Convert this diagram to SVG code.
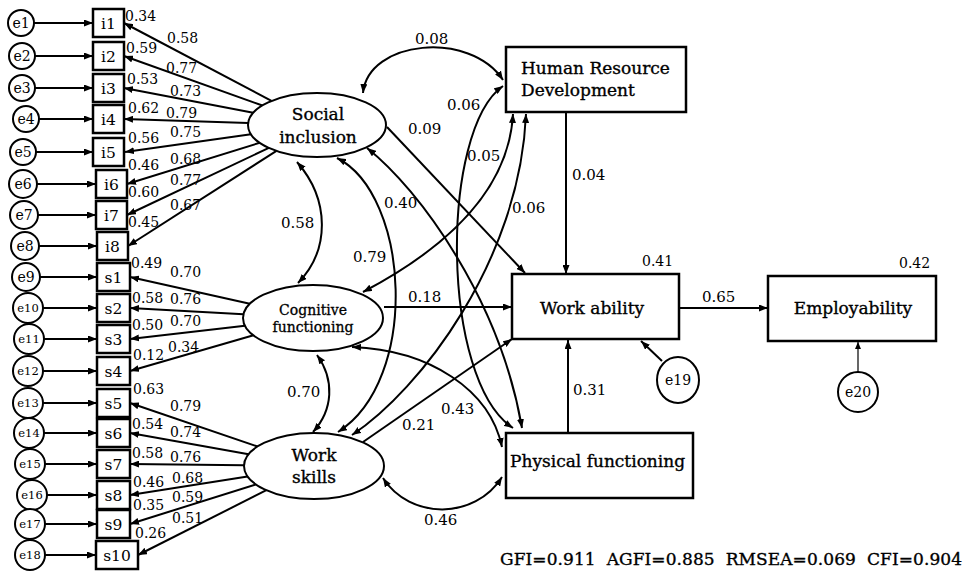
<svg xmlns="http://www.w3.org/2000/svg" width="963" height="574" viewBox="0 0 963 574">
<style>
text{font-family:"DejaVu Serif","Liberation Serif",serif;fill:#000}
.bx{fill:#fff;stroke:#000;stroke-width:2.5}
.el{fill:#fff;stroke:#000;stroke-width:2}
.ec{fill:#fff;stroke:#000;stroke-width:2}
.ln{fill:none;stroke:#000;stroke-width:2;marker-end:url(#ah)}
.dl{fill:none;stroke:#000;stroke-width:2;marker-start:url(#ah);marker-end:url(#ah)}
.thin{fill:none;stroke:#000;stroke-width:1.2;marker-end:url(#ah2)}
.ind{font-size:15.5px;text-anchor:middle}
.et{font-size:14px;text-anchor:middle}
.es{font-size:11.5px;text-anchor:middle}
.sl{font-size:14px}
.ml{font-size:15px}
.nl{font-size:17px;stroke:#000;stroke-width:0.35}
</style>
<defs>
<marker id="ah" viewBox="0 0 9 7" refX="9" refY="3.5" markerWidth="9" markerHeight="7" markerUnits="userSpaceOnUse" orient="auto-start-reverse"><path d="M0,0 L9,3.5 L0,7 z" fill="#000"/></marker>
<marker id="ah2" viewBox="0 0 7 6" refX="7" refY="3" markerWidth="7" markerHeight="6" markerUnits="userSpaceOnUse" orient="auto"><path d="M0,0 L7,3 L0,6 z" fill="#000"/></marker>
</defs>
<rect width="963" height="574" fill="#fff"/>

<g id="connectors">
<line class="ln" x1="34" y1="23" x2="93" y2="23"/>
<line class="ln" x1="35" y1="56" x2="93" y2="56"/>
<line class="ln" x1="35" y1="88" x2="93" y2="88"/>
<line class="ln" x1="39" y1="119" x2="93" y2="119"/>
<line class="ln" x1="36" y1="152" x2="93" y2="152"/>
<line class="ln" x1="37" y1="184" x2="96" y2="184"/>
<line class="ln" x1="38" y1="215" x2="96" y2="215"/>
<line class="ln" x1="39" y1="246" x2="97" y2="246"/>
<line class="ln" x1="40" y1="277" x2="97" y2="277"/>
<line class="ln" x1="43" y1="308" x2="97" y2="308"/>
<line class="ln" x1="44" y1="339" x2="97" y2="339"/>
<line class="ln" x1="43" y1="371" x2="97" y2="371"/>
<line class="ln" x1="43" y1="403" x2="97" y2="403"/>
<line class="ln" x1="44" y1="433" x2="97" y2="433"/>
<line class="ln" x1="45" y1="464" x2="97" y2="464"/>
<line class="ln" x1="47" y1="495" x2="97" y2="495"/>
<line class="ln" x1="45" y1="524" x2="97" y2="524"/>
<line class="ln" x1="45" y1="555" x2="96" y2="555"/>
<line class="ln" x1="271.5" y1="100.9" x2="124" y2="23"/>
<line class="ln" x1="262.4" y1="105.5" x2="124" y2="56"/>
<line class="ln" x1="253.2" y1="112.8" x2="124" y2="88"/>
<line class="ln" x1="248.2" y1="122.9" x2="124" y2="119"/>
<line class="ln" x1="251" y1="134.3" x2="125" y2="152"/>
<line class="ln" x1="259.7" y1="142.8" x2="127" y2="184"/>
<line class="ln" x1="268.9" y1="147.9" x2="127" y2="215"/>
<line class="ln" x1="276.5" y1="150.9" x2="128" y2="246"/>
<line class="ln" x1="249.8" y1="303.8" x2="130" y2="277"/>
<line class="ln" x1="243.5" y1="314.2" x2="130" y2="308"/>
<line class="ln" x1="245" y1="325.8" x2="130" y2="339"/>
<line class="ln" x1="253.5" y1="335.3" x2="130" y2="371"/>
<line class="ln" x1="257.5" y1="446.5" x2="130" y2="403"/>
<line class="ln" x1="248.6" y1="454.2" x2="130" y2="433"/>
<line class="ln" x1="244" y1="465.2" x2="130" y2="464"/>
<line class="ln" x1="247.6" y1="476.5" x2="130" y2="495"/>
<line class="ln" x1="255.9" y1="484.4" x2="130" y2="524"/>
<line class="ln" x1="266.4" y1="490.2" x2="138" y2="555"/>
<line class="ln" x1="387" y1="127" x2="525" y2="273"/>
<line class="ln" x1="384" y1="307" x2="512" y2="307"/>
<line class="ln" x1="363" y1="442" x2="512" y2="339"/>
<line class="ln" x1="566" y1="113" x2="566" y2="274"/>
<line class="ln" x1="568" y1="433" x2="568" y2="340"/>
<line class="ln" x1="679" y1="308" x2="768" y2="308"/>
<line class="ln" x1="662" y1="361" x2="641" y2="341"/>
<line class="thin" x1="858" y1="372" x2="858" y2="342"/>
<path class="dl" d="M363,93 C368,40 470,30 503,80"/>
<path class="dl" d="M297,162 C330,200 330,250 298,283"/>
<path class="dl" d="M317,355 C335,380 333,410 313,432"/>
<path class="dl" d="M337,158 C410,195 420,380 338,432"/>
<path class="dl" d="M367,148 C420,190 500,300 522,428"/>
<path class="dl" d="M503,86 C440,130 440,380 513,428"/>
<path class="dl" d="M363,292 C420,262 508,205 513,114"/>
<path class="dl" d="M352,435 C420,390 520,260 526,114"/>
<path class="dl" d="M352,347 C430,350 490,390 502,447"/>
<path class="dl" d="M383,478 C410,520 475,520 502,477"/>
</g>

<g id="labels">
<text class="sl" x="125" y="21">0.34</text>
<text class="sl" x="167" y="43">0.58</text>
<text class="sl" x="126" y="53">0.59</text>
<text class="sl" x="166" y="73">0.77</text>
<text class="sl" x="127" y="84">0.53</text>
<text class="sl" x="170" y="96">0.73</text>
<text class="sl" x="128" y="113">0.62</text>
<text class="sl" x="166" y="118">0.79</text>
<text class="sl" x="170" y="137">0.75</text>
<text class="sl" x="128" y="143">0.56</text>
<text class="sl" x="170" y="164">0.68</text>
<text class="sl" x="128" y="170">0.46</text>
<text class="sl" x="170" y="185">0.77</text>
<text class="sl" x="128" y="197">0.60</text>
<text class="sl" x="170" y="210">0.67</text>
<text class="sl" x="128" y="227">0.45</text>
<text class="sl" x="131" y="268">0.49</text>
<text class="sl" x="170" y="277">0.70</text>
<text class="sl" x="132" y="303">0.58</text>
<text class="sl" x="170" y="304">0.76</text>
<text class="sl" x="170" y="326">0.70</text>
<text class="sl" x="132" y="330">0.50</text>
<text class="sl" x="168" y="352">0.34</text>
<text class="sl" x="133" y="360">0.12</text>
<text class="sl" x="133" y="394">0.63</text>
<text class="sl" x="170" y="411">0.79</text>
<text class="sl" x="132" y="429">0.54</text>
<text class="sl" x="170" y="437">0.74</text>
<text class="sl" x="132" y="458">0.58</text>
<text class="sl" x="170" y="462">0.76</text>
<text class="sl" x="172" y="483">0.68</text>
<text class="sl" x="133" y="487">0.46</text>
<text class="sl" x="172" y="502">0.59</text>
<text class="sl" x="133" y="510">0.35</text>
<text class="sl" x="172" y="523">0.51</text>
<text class="sl" x="135" y="538">0.26</text>
<text class="ml" x="415" y="44">0.08</text>
<text class="ml" x="408" y="134">0.09</text>
<text class="ml" x="447" y="110">0.06</text>
<text class="ml" x="467" y="161">0.05</text>
<text class="ml" x="281" y="228">0.58</text>
<text class="ml" x="353" y="262">0.79</text>
<text class="ml" x="384" y="208">0.40</text>
<text class="ml" x="512" y="213">0.06</text>
<text class="ml" x="572" y="180">0.04</text>
<text class="ml" x="408" y="302">0.18</text>
<text class="ml" x="287" y="397">0.70</text>
<text class="ml" x="402" y="430">0.21</text>
<text class="ml" x="441" y="414">0.43</text>
<text class="ml" x="424" y="525">0.46</text>
<text class="ml" x="573" y="395">0.31</text>
<text class="ml" x="702" y="302">0.65</text>
<text class="sl" x="642" y="266">0.41</text>
<text class="sl" x="899" y="268">0.42</text>
<text x="500" y="565" font-size="17" stroke="#000" stroke-width="0.35" textLength="462" lengthAdjust="spacing" xml:space="preserve">GFI=0.911  AGFI=0.885  RMSEA=0.069  CFI=0.904</text>
</g>

<g id="e1"><circle class="ec" cx="21" cy="23" r="13"/><text class="et" x="21" y="28">e1</text></g>
<g id="e2"><circle class="ec" cx="22" cy="56" r="13"/><text class="et" x="22" y="61">e2</text></g>
<g id="e3"><circle class="ec" cx="22" cy="88" r="13"/><text class="et" x="22" y="93">e3</text></g>
<g id="e4"><circle class="ec" cx="26" cy="119" r="13"/><text class="et" x="26" y="124">e4</text></g>
<g id="e5"><circle class="ec" cx="23" cy="152" r="13"/><text class="et" x="23" y="157">e5</text></g>
<g id="e6"><circle class="ec" cx="23" cy="184" r="14"/><text class="et" x="23" y="189">e6</text></g>
<g id="e7"><circle class="ec" cx="24" cy="215" r="14"/><text class="et" x="24" y="220">e7</text></g>
<g id="e8"><circle class="ec" cx="25" cy="246" r="14"/><text class="et" x="25" y="251">e8</text></g>
<g id="e9"><circle class="ec" cx="26" cy="277" r="14"/><text class="et" x="26" y="282">e9</text></g>
<g id="e10"><circle class="ec" cx="28" cy="308" r="15"/><text class="es" x="28" y="312">e10</text></g>
<g id="e11"><circle class="ec" cx="29" cy="339" r="15"/><text class="es" x="29" y="343">e11</text></g>
<g id="e12"><circle class="ec" cx="28" cy="371" r="15"/><text class="es" x="28" y="375">e12</text></g>
<g id="e13"><circle class="ec" cx="28" cy="403" r="15"/><text class="es" x="28" y="407">e13</text></g>
<g id="e14"><circle class="ec" cx="29" cy="433" r="15"/><text class="es" x="29" y="437">e14</text></g>
<g id="e15"><circle class="ec" cx="30" cy="464" r="15"/><text class="es" x="30" y="468">e15</text></g>
<g id="e16"><circle class="ec" cx="32" cy="495" r="15"/><text class="es" x="32" y="499">e16</text></g>
<g id="e17"><circle class="ec" cx="30" cy="524" r="15"/><text class="es" x="30" y="528">e17</text></g>
<g id="e18"><circle class="ec" cx="30" cy="555" r="15"/><text class="es" x="30" y="559">e18</text></g>

<g id="i1"><rect class="bx" x="93" y="9" width="31" height="28"/><text class="ind" x="108.5" y="29">i1</text></g>
<g id="i2"><rect class="bx" x="93" y="42" width="31" height="28"/><text class="ind" x="108.5" y="62">i2</text></g>
<g id="i3"><rect class="bx" x="93" y="74" width="31" height="28"/><text class="ind" x="108.5" y="94">i3</text></g>
<g id="i4"><rect class="bx" x="93" y="105" width="31" height="28"/><text class="ind" x="108.5" y="125">i4</text></g>
<g id="i5"><rect class="bx" x="93" y="138" width="31" height="28"/><text class="ind" x="108.5" y="158">i5</text></g>
<g id="i6"><rect class="bx" x="96" y="170" width="31" height="28"/><text class="ind" x="111.5" y="190">i6</text></g>
<g id="i7"><rect class="bx" x="96" y="201" width="31" height="28"/><text class="ind" x="111.5" y="221">i7</text></g>
<g id="i8"><rect class="bx" x="97" y="232" width="31" height="28"/><text class="ind" x="112.5" y="252">i8</text></g>
<g id="s1"><rect class="bx" x="97" y="263" width="33" height="28"/><text class="ind" x="113.5" y="283">s1</text></g>
<g id="s2"><rect class="bx" x="97" y="294" width="33" height="28"/><text class="ind" x="113.5" y="314">s2</text></g>
<g id="s3"><rect class="bx" x="97" y="325" width="33" height="28"/><text class="ind" x="113.5" y="345">s3</text></g>
<g id="s4"><rect class="bx" x="97" y="357" width="33" height="28"/><text class="ind" x="113.5" y="377">s4</text></g>
<g id="s5"><rect class="bx" x="97" y="389" width="33" height="28"/><text class="ind" x="113.5" y="409">s5</text></g>
<g id="s6"><rect class="bx" x="97" y="419" width="33" height="28"/><text class="ind" x="113.5" y="439">s6</text></g>
<g id="s7"><rect class="bx" x="97" y="450" width="33" height="28"/><text class="ind" x="113.5" y="470">s7</text></g>
<g id="s8"><rect class="bx" x="97" y="481" width="33" height="28"/><text class="ind" x="113.5" y="501">s8</text></g>
<g id="s9"><rect class="bx" x="97" y="510" width="33" height="28"/><text class="ind" x="113.5" y="530">s9</text></g>
<g id="s10"><rect class="bx" x="96" y="541" width="42" height="28"/><text class="ind" x="117" y="561">s10</text></g>

<g id="social-inclusion"><ellipse class="el" cx="317" cy="125" rx="69" ry="32"/><text class="nl" x="318" y="120" text-anchor="middle">Social</text><text class="nl" x="318" y="143" text-anchor="middle">inclusion</text></g>
<g id="cognitive-functioning"><ellipse class="el" cx="313" cy="318" rx="70" ry="33"/><text x="313" y="315" font-size="14" stroke="#000" stroke-width="0.3" text-anchor="middle">Cognitive</text><text x="313" y="332" font-size="14" stroke="#000" stroke-width="0.3" text-anchor="middle">functioning</text></g>
<g id="work-skills"><ellipse class="el" cx="314" cy="466" rx="70" ry="33"/><text class="nl" x="314" y="461" text-anchor="middle">Work</text><text class="nl" x="314" y="483" text-anchor="middle">skills</text></g>
<g id="hrd"><rect class="bx" x="506" y="47" width="180" height="65"/><text class="nl" x="521" y="74">Human Resource</text><text class="nl" x="521" y="96">Development</text></g>
<g id="work-ability"><rect class="bx" x="512" y="274" width="167" height="65"/><text class="nl" x="592" y="314" text-anchor="middle">Work ability</text></g>
<g id="employability"><rect class="bx" x="768" y="276" width="168" height="65"/><text class="nl" x="853" y="314" text-anchor="middle">Employability</text></g>
<g id="physical-functioning"><rect class="bx" x="506" y="433" width="187" height="65"/><text class="nl" x="510" y="467" font-size="16.5">Physical functioning</text></g>
<g id="e19"><ellipse class="ec" cx="678" cy="380" rx="21" ry="23"/><text class="et" x="678" y="385" font-size="14.5">e19</text></g>
<g id="e20"><circle class="ec" cx="858" cy="392" r="20"/><text class="et" x="858" y="397" font-size="14.5">e20</text></g>
</svg>
